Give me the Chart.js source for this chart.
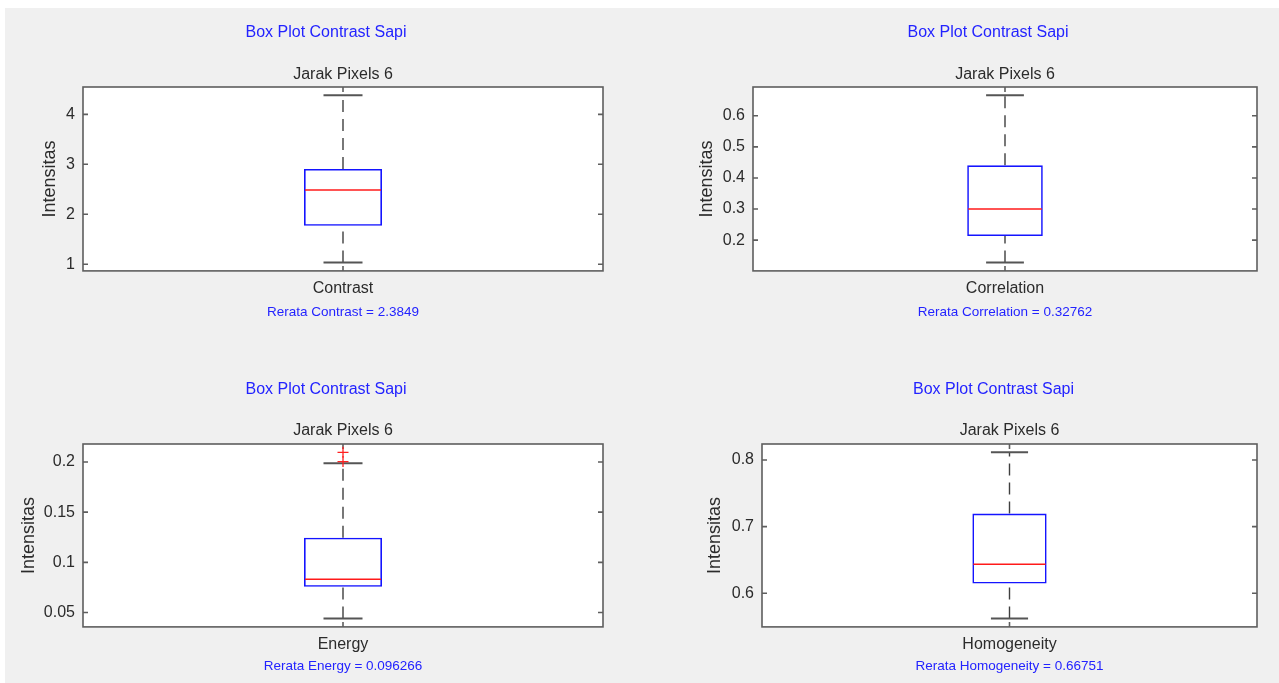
<!DOCTYPE html>
<html>
<head>
<meta charset="utf-8">
<script src="https://cdn.jsdelivr.net/npm/chart.js@4.4.1/dist/chart.umd.min.js"></script>
<style>
  html, body { margin: 0; padding: 0; width: 1279px; height: 683px; overflow: hidden; background: #ffffff; }
  #figure { position: absolute; left: 5px; top: 8px; right: 0; bottom: 0; background: #f0f0f0; }
  canvas { position: absolute; }
</style>
</head>
<body>
<div id="figure"></div>
<script>
// ---- data: GLCM texture features (pixel distance 6) ----
const features = ['Contrast', 'Correlation', 'Energy', 'Homogeneity'];
const lowerWhiskers = [1.034, 0.128, 0.044, 0.562];
const q1Values = [1.768, 0.213, 0.0756, 0.6146];
const medianValues = [2.488, 0.300, 0.0833, 0.6436];
const q3Values = [2.908, 0.4405, 0.1246, 0.7196];
const upperWhiskers = [4.38, 0.6656, 0.1986, 0.8116];
const outlierValues = [[], [], [0.2004, 0.2096], []];
const meanValues = [2.3849, 0.32762, 0.096266, 0.66751];
const yTickValues = [[1, 2, 3, 4], [0.2, 0.3, 0.4, 0.5, 0.6], [0.05, 0.1, 0.15, 0.2], [0.6, 0.7, 0.8]];
const yTickLabels = [['1', '2', '3', '4'], ['0.2', '0.3', '0.4', '0.5', '0.6'], ['0.05', '0.1', '0.15', '0.2'], ['0.6', '0.7', '0.8']];
const figureTitle = 'Box Plot Contrast Sapi';
const panelTitle = 'Jarak Pixels 6';
const yAxisTitle = 'Intensitas';

// ---- layout of the 2x2 grid (page pixels) ----
const panels = [
  { L: 83,  T: 87,  R: 603,  B: 271, CL: 5,   CR: 647,  CT: 8,   titleY: 33,  subY: 75,  tickY: 289, noteY: 312, yTitleX: 50 },
  { L: 753, T: 87,  R: 1257, B: 271, CL: 680, CR: 1296, CT: 8,   titleY: 33,  subY: 75,  tickY: 289, noteY: 312, yTitleX: 707 },
  { L: 83,  T: 444, R: 603,  B: 627, CL: 5,   CR: 647,  CT: 350, titleY: 390, subY: 431, tickY: 645, noteY: 666, yTitleX: 29 },
  { L: 762, T: 444, R: 1257, B: 627, CL: 690, CR: 1297, CT: 350, titleY: 390, subY: 431, tickY: 645, noteY: 666, yTitleX: 715 }
];

const FONT = "'Liberation Sans', Arial, Helvetica, sans-serif";
const TEXT = '#2b2b2b';
const BLUE = '#2323ff';
const FRAME = '#5e5e5e';
const WHISKER = '#3f3f3f';
const NOTE_SIZE = 13.5;

// whiskers, caps, median, frame and inward ticks, all placed through the chart scales
const boxPlotPieces = {
  id: 'boxPlotPieces',
  beforeDatasetsDraw(chart, args, opts) {
    const i = opts.index;
    const { ctx, chartArea: a, scales } = chart;
    const y = scales.y;
    const bar = chart.getDatasetMeta(0).data[0];
    const cx = bar.x;
    const capHalf = bar.width / 4;

    ctx.save();
    ctx.fillStyle = '#ffffff';
    ctx.fillRect(a.left, a.top, a.right - a.left, a.bottom - a.top);

    // dashed whiskers
    ctx.strokeStyle = WHISKER;
    ctx.lineWidth = 1.4;
    ctx.setLineDash([12, 7]);
    ctx.beginPath();
    ctx.moveTo(cx, y.getPixelForValue(q3Values[i]));
    ctx.lineTo(cx, y.getPixelForValue(upperWhiskers[i]));
    ctx.stroke();
    ctx.beginPath();
    ctx.moveTo(cx, y.getPixelForValue(lowerWhiskers[i]));
    ctx.lineTo(cx, y.getPixelForValue(q1Values[i]));
    ctx.stroke();
    ctx.setLineDash([]);

    // whisker caps
    ctx.lineWidth = 2;
    ctx.strokeStyle = '#555555';
    [upperWhiskers[i], lowerWhiskers[i]].forEach(v => {
      const py = y.getPixelForValue(v);
      ctx.beginPath();
      ctx.moveTo(cx - capHalf, py);
      ctx.lineTo(cx + capHalf, py);
      ctx.stroke();
    });

    // axes frame with inward ticks
    ctx.strokeStyle = FRAME;
    ctx.lineWidth = 1.6;
    ctx.strokeRect(a.left, a.top, a.right - a.left, a.bottom - a.top);
    const tl = 5;
    ctx.beginPath();
    y.ticks.forEach(t => {
      const py = y.getPixelForValue(t.value);
      ctx.moveTo(a.left, py); ctx.lineTo(a.left + tl, py);
      ctx.moveTo(a.right, py); ctx.lineTo(a.right - tl, py);
    });
    const tx = scales.x.getPixelForValue(0);
    ctx.moveTo(tx, a.top); ctx.lineTo(tx, a.top + tl);
    ctx.moveTo(tx, a.bottom); ctx.lineTo(tx, a.bottom - tl);
    ctx.stroke();
    ctx.restore();
  },
  afterDatasetsDraw(chart, args, opts) {
    const i = opts.index;
    const { ctx, scales } = chart;
    const bar = chart.getDatasetMeta(0).data[0];
    const py = scales.y.getPixelForValue(medianValues[i]);
    ctx.save();
    ctx.strokeStyle = '#ff1a1a';
    ctx.lineWidth = 1.5;
    ctx.beginPath();
    ctx.moveTo(bar.x - bar.width / 2 + 1, py);
    ctx.lineTo(bar.x + bar.width / 2 - 1, py);
    ctx.stroke();
    ctx.restore();
  }
};

features.forEach((feature, i) => {
  const p = panels[i];
  const lo = Math.min(lowerWhiskers[i], ...outlierValues[i]);
  const hi = Math.max(upperWhiskers[i], ...outlierValues[i]);
  const pad = 0.05 * (hi - lo);

  const xAxisHeight = p.noteY - p.B + NOTE_SIZE * 0.6 + 4;
  const canvas = document.createElement('canvas');
  canvas.width = p.CR - p.CL;
  canvas.height = Math.round(p.B + xAxisHeight - p.CT);
  canvas.style.left = p.CL + 'px';
  canvas.style.top = p.CT + 'px';
  document.body.appendChild(canvas);

  new Chart(canvas, {
    type: 'bar',
    data: {
      labels: [feature],
      datasets: [
        {
          type: 'bar',
          data: [[q1Values[i], q3Values[i]]],
          backgroundColor: 'rgba(0,0,0,0)',
          borderColor: '#1414ff',
          borderWidth: 1.6,
          borderSkipped: false,
          barPercentage: 0.15,
          categoryPercentage: 1,
          order: 2
        },
        {
          type: 'scatter',
          data: outlierValues[i].map(v => ({ x: feature, y: v })),
          pointStyle: 'cross',
          pointRadius: 5.5,
          borderColor: '#ff2020',
          backgroundColor: '#ff2020',
          borderWidth: 1.3,
          order: 1
        }
      ]
    },
    options: {
      responsive: false,
      animation: false,
      devicePixelRatio: 1,
      layout: { padding: 0 },
      plugins: {
        legend: { display: false },
        tooltip: { enabled: false },
        title: {
          display: true,
          text: figureTitle,
          color: BLUE,
          fullSize: true,
          font: { family: FONT, size: 16, weight: 'normal' },
          padding: { top: p.titleY - p.CT - 9.6, bottom: 0 }
        },
        subtitle: {
          display: true,
          text: panelTitle,
          color: TEXT,
          fullSize: false,
          font: { family: FONT, size: 16, weight: 'normal' },
          padding: { top: p.subY - p.titleY - 19.2, bottom: p.T - p.subY - 9.6 }
        },
        boxPlotPieces: { index: i }
      },
      scales: {
        x: {
          type: 'category',
          offset: true,
          grid: { display: false, drawTicks: false },
          border: { display: false },
          ticks: { color: TEXT, font: { family: FONT, size: 16 }, padding: p.tickY - p.B - 9.6 },
          title: {
            display: true,
            text: 'Rerata ' + feature + ' = ' + String(meanValues[i]),
            color: BLUE,
            font: { family: FONT, size: NOTE_SIZE },
            padding: { top: 0, bottom: 4 }
          },
          afterFit(s) { s.height = xAxisHeight; }
        },
        y: {
          type: 'linear',
          position: 'left',
          min: lo - pad,
          max: hi + pad,
          grid: { display: false, drawTicks: false },
          border: { display: false },
          ticks: {
            color: TEXT,
            font: { family: FONT, size: 16 },
            padding: 8,
            autoSkip: false,
            callback: (v, k) => yTickLabels[i][k]
          },
          afterBuildTicks(s) { s.ticks = yTickValues[i].map(v => ({ value: v })); },
          title: {
            display: true,
            text: yAxisTitle,
            color: TEXT,
            font: { family: FONT, size: 18 },
            padding: { top: p.yTitleX - p.CL - 10.8, bottom: 0 }
          },
          afterFit(s) { s.width = p.L - p.CL; }
        },
        yRight: {
          type: 'linear',
          position: 'right',
          min: 0,
          max: 1,
          grid: { display: false, drawTicks: false },
          border: { display: false },
          ticks: { display: false },
          afterFit(s) { s.width = p.CR - p.R; }
        }
      }
    },
    plugins: [boxPlotPieces]
  });
});
</script>
</body>
</html>
